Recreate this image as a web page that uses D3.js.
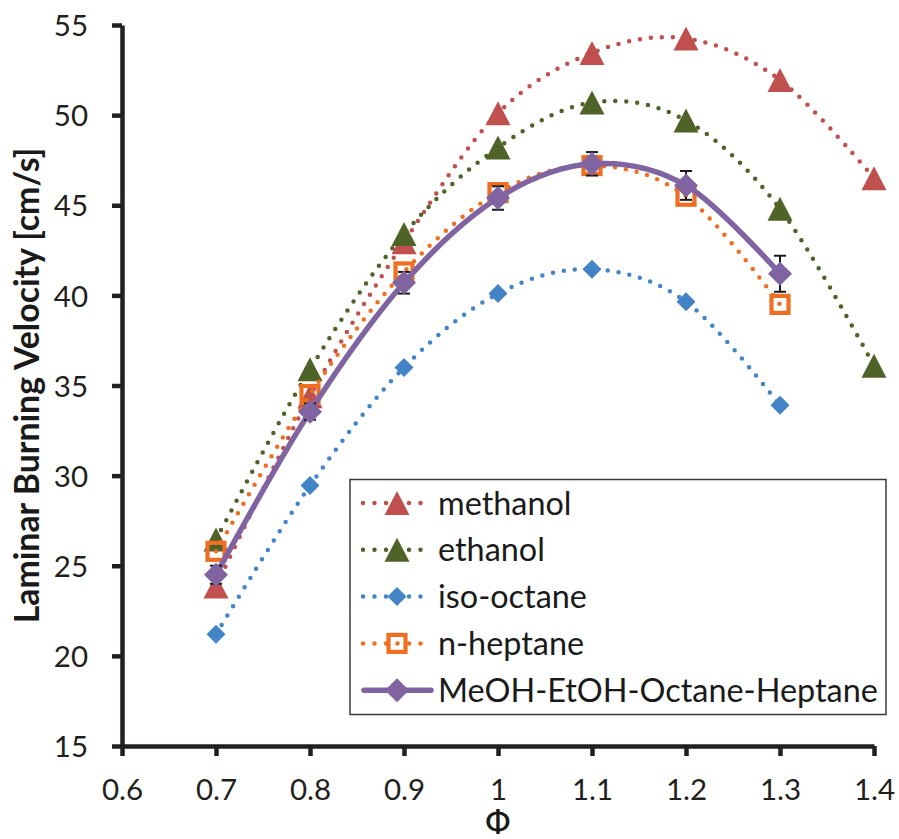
<!DOCTYPE html>
<html>
<head>
<meta charset="utf-8">
<script src="https://cdn.jsdelivr.net/npm/d3@7"></script>
<style>
  html, body { margin: 0; padding: 0; background: #fff; }
  svg { display: block; }
</style>
</head>
<body>
<script>
// ---------- data ----------
const phi = [0.7, 0.8, 0.9, 1.0, 1.1, 1.2, 1.3, 1.4];
const methanol  = [23.85, 34.4, 42.95, 50.1, 53.45, 54.25, 51.95, 46.5];
const ethanol   = [26.45, 35.9, 43.4, 48.2, 50.7, 49.7, 44.8, 36.1];
const isoOctane = [21.2, 29.45, 36.0, 40.1, 41.45, 39.65, 33.9];
const nHeptane  = [25.8, 34.5, 41.3, 45.7, 47.2, 45.5, 39.5];
const blend     = [24.5, 33.55, 40.7, 45.4, 47.3, 46.1, 41.2];
const blendErr  = [0.5, 0.45, 0.6, 0.65, 0.65, 0.8, 1.0];
const xTicks = [0.6, 0.7, 0.8, 0.9, 1.0, 1.1, 1.2, 1.3, 1.4];
const yTicks = [15, 20, 25, 30, 35, 40, 45, 50, 55];
const seriesNames = ["methanol", "ethanol", "iso-octane", "n-heptane", "MeOH-EtOH-Octane-Heptane"];
const xTitle = "Φ";
const yTitle = "Laminar Burning Velocity [cm/s]";

// ---------- layout ----------
const W = 899, H = 839;
const m = { left: 122, top: 25, right: 25, bottom: 93 };
const x = d3.scaleLinear().domain([0.6, 1.4]).range([m.left, W - m.right]);
const y = d3.scaleLinear().domain([15, 55]).range([H - m.bottom, m.top]);

const FONT = "Lato, 'Open Sans', 'DejaVu Sans', sans-serif";
const AXC = "#231f20";

const svg = d3.select("body").append("svg").attr("width", W).attr("height", H);

const series = [
  { name: seriesNames[0], vals: methanol,  color: "#C0504D", marker: "tri",  dotted: true },
  { name: seriesNames[1], vals: ethanol,   color: "#4F6228", marker: "tri",  dotted: true },
  { name: seriesNames[2], vals: isoOctane, color: "#4384C7", marker: "dia",  size: 19, dotted: true },
  { name: seriesNames[3], vals: nHeptane,  color: "#EE6F22", marker: "sq",   dotted: true },
  { name: seriesNames[4], vals: blend,     color: "#8064A2", marker: "dia",  size: 24, dotted: false, err: blendErr }
];

function markerPath(type, size) {
  if (type === "tri") {
    const w = 25, h = 24;
    return `M0,${-h/2}L${w/2},${h/2}L${-w/2},${h/2}Z`;
  }
  const s = size / 2;
  return `M0,${-s}L${s},0L0,${s}L${-s},0Z`;
}

function drawMarker(g, s, cx, cy) {
  if (s.marker === "sq") {
    g.append("rect").attr("x", cx - 8.5).attr("y", cy - 8.5).attr("width", 17).attr("height", 17)
      .attr("fill", "none").attr("stroke", s.color).attr("stroke-width", 4.2);
  } else {
    g.append("path").attr("d", markerPath(s.marker, s.size))
      .attr("transform", `translate(${cx},${cy})`).attr("fill", s.color);
  }
}

function fitText(sel, target, start) {
  sel.style("font-size", start + "px");
  const len = sel.node().getComputedTextLength();
  if (len > 0) sel.style("font-size", (start * target / len).toFixed(2) + "px");
}

// ---------- axes ----------
const yAxis = svg.append("g").attr("transform", `translate(${m.left},0)`)
  .call(d3.axisLeft(y).tickValues(yTicks).tickFormat(d3.format("d")).tickSize(10).tickSizeOuter(0).tickPadding(24));
const xAxis = svg.append("g").attr("transform", `translate(0,${H - m.bottom})`)
  .call(d3.axisBottom(x).tickValues(xTicks).tickFormat(d => d === 1 ? "1" : d3.format(".1f")(d)).tickSize(10).tickSizeOuter(0).tickPadding(23));
[yAxis, xAxis].forEach(a => {
  a.select(".domain").attr("stroke", AXC).attr("stroke-width", 4.5);
  a.selectAll(".tick line").attr("stroke", AXC).attr("stroke-width", 4.5);
  a.selectAll(".tick text").attr("fill", "#231f20").style("font-family", FONT).style("font-size", "29.5px");
});
yAxis.selectAll(".tick text").attr("dy", "0.36em");

// axis titles
const yt = svg.append("text").attr("transform", `translate(39,${(m.top + H - m.bottom) / 2}) rotate(-90)`)
  .attr("text-anchor", "middle").attr("fill", "#1a1a1a")
  .style("font-family", FONT).style("font-weight", "bold")
  .text(yTitle);
fitText(yt, 476, 26);
svg.append("text").attr("x", x(1.0)).attr("y", 834).attr("text-anchor", "middle").attr("fill", "#1a1a1a")
  .style("font-family", "'DejaVu Sans', sans-serif").style("font-size", "34px").text(xTitle);

// ---------- series ----------
const line = d3.line().curve(d3.curveCatmullRom.alpha(0)).x(d => x(d[0])).y(d => y(d[1]));

series.forEach(s => {
  const pts = s.vals.map((v, i) => [phi[i], v]);
  const g = svg.append("g");
  const p = g.append("path").attr("d", line(pts)).attr("fill", "none").attr("stroke", s.color);
  if (s.dotted) {
    p.attr("stroke-width", 4.5).attr("stroke-dasharray", "0 11").attr("stroke-linecap", "round");
  } else {
    p.attr("stroke-width", 5.5);
  }
  if (s.err) {
    pts.forEach((d, i) => {
      const e = s.err[i];
      const cx = x(d[0]), y1 = y(d[1] + e), y2 = y(d[1] - e);
      g.append("line").attr("x1", cx).attr("x2", cx).attr("y1", y1).attr("y2", y2).attr("stroke", "#1a1a1a").attr("stroke-width", 2);
      [y1, y2].forEach(yy => g.append("line").attr("x1", cx - 6).attr("x2", cx + 6).attr("y1", yy).attr("y2", yy).attr("stroke", "#1a1a1a").attr("stroke-width", 2));
    });
  }
  pts.forEach(d => drawMarker(g, s, x(d[0]), y(d[1])));
});

// ---------- legend ----------
const lg = svg.append("g");
lg.append("rect").attr("x", 350).attr("y", 479.5).attr("width", 536).attr("height", 235)
  .attr("fill", "#fff").attr("stroke", "#3a3a3a").attr("stroke-width", 1.5);
const texts = [];
series.forEach((s, i) => {
  const cy = 503 + i * 46.8;
  if (s.dotted) {
    lg.append("line").attr("x1", 363).attr("x2", 430).attr("y1", cy).attr("y2", cy)
      .attr("stroke", s.color).attr("stroke-width", 4.5).attr("stroke-dasharray", "0 11.5").attr("stroke-linecap", "round");
  } else {
    lg.append("line").attr("x1", 364).attr("x2", 431).attr("y1", cy).attr("y2", cy)
      .attr("stroke", s.color).attr("stroke-width", 5.5).attr("stroke-linecap", "round");
  }
  drawMarker(lg, s, 397, cy);
  texts.push(lg.append("text").attr("x", 438).attr("y", cy).attr("dy", "0.36em").attr("fill", "#1a1a1a")
    .style("font-family", FONT).text(s.name));
});
// size legend font so the longest label spans the same width as in the reference
const longest = texts[texts.length - 1];
fitText(longest, 440, 28);
const fs = longest.style("font-size");
texts.forEach(t => t.style("font-size", fs));
</script>
</body>
</html>
